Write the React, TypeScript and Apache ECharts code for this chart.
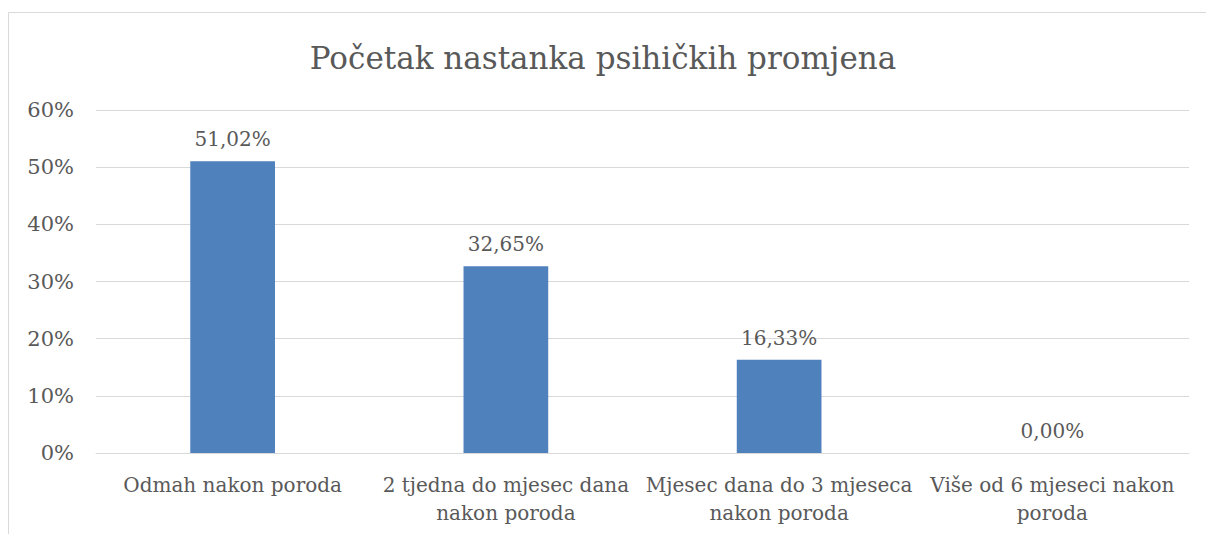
import React, { useEffect, useRef } from "react";
import * as echarts from "echarts";

const categories = [
  "Odmah nakon poroda",
  "2 tjedna do mjesec dana\nnakon poroda",
  "Mjesec dana do 3 mjeseca\nnakon poroda",
  "Više od 6 mjeseci nakon\nporoda",
];
const values = [51.02, 32.65, 16.33, 0.0];
const title = "Početak nastanka psihičkih promjena";
const yTicks = [0, 10, 20, 30, 40, 50, 60];

const FONT = "'DejaVu Serif', 'Liberation Serif', serif";
const TXT = "#595959";

export default function App() {
  const ref = useRef<HTMLDivElement>(null);
  useEffect(() => {
    document.body.style.margin = "0";
    const chart = echarts.init(ref.current!, null, { renderer: "svg" });
    chart.setOption({
      animation: false,
      backgroundColor: "#ffffff",
      title: {
        text: title,
        left: "center",
        top: 37,
        textStyle: { fontFamily: FONT, fontSize: 31, fontWeight: "normal", color: TXT },
      },
      graphic: [
        {
          type: "rect",
          shape: { x: 8.5, y: 12.5, width: 1300, height: 700 },
          style: { fill: "none", stroke: "#d9d9d9", lineWidth: 1 },
          silent: true,
        },
      ],
      grid: { left: 96, right: 17, top: 110, bottom: 81 },
      xAxis: {
        type: "category",
        data: categories,
        axisLine: { show: true, lineStyle: { color: "#d9d9d9" } },
        axisTick: { show: false },
        axisLabel: {
          fontFamily: FONT,
          fontSize: 20,
          color: TXT,
          lineHeight: 28,
          margin: 18,
          interval: 0,
        },
      },
      yAxis: {
        type: "value",
        min: yTicks[0],
        max: yTicks[yTicks.length - 1],
        interval: 10,
        axisLine: { show: false },
        axisTick: { show: false },
        splitLine: { lineStyle: { color: "#d9d9d9", width: 1 } },
        axisLabel: {
          fontFamily: FONT,
          fontSize: 21,
          color: TXT,
          margin: 22,
          formatter: (v: number) => `${v}%`,
        },
      },
      series: [
        {
          type: "bar",
          data: values,
          barWidth: "31%",
          itemStyle: { color: "#4f81bd" },
          label: {
            show: true,
            position: "top",
            distance: 12,
            fontFamily: FONT,
            fontSize: 20,
            color: TXT,
            formatter: (p: any) => p.value.toFixed(2).replace(".", ",") + "%",
          },
        },
      ],
    });
    return () => chart.dispose();
  }, []);
  return (
    <div
      ref={ref}
      style={{ position: "absolute", left: 0, top: 0, width: 1206, height: 534 }}
    />
  );
}
